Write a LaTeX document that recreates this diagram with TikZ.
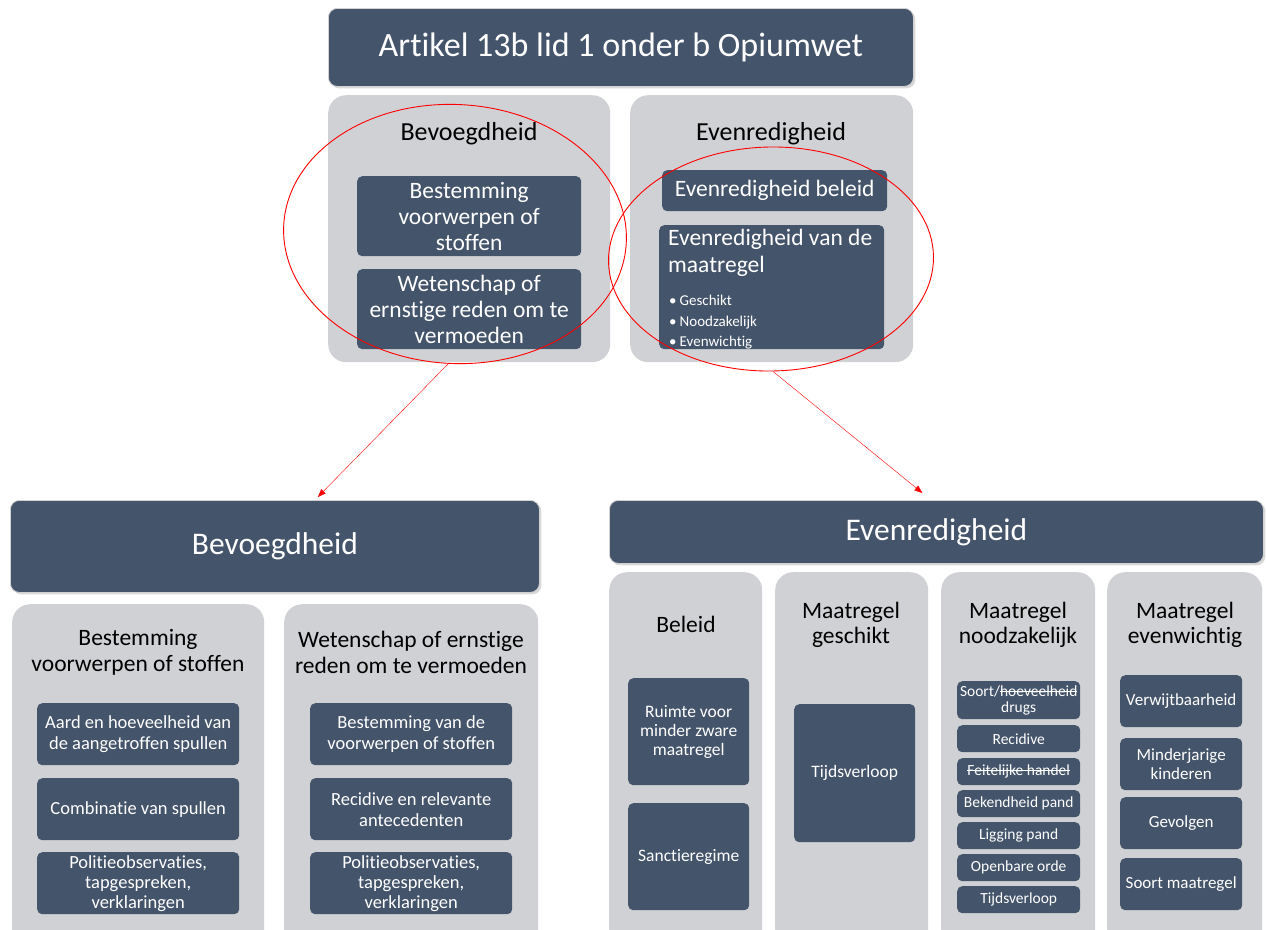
\documentclass[tikz,border=0pt]{standalone}
\usepackage{fontspec}
\setmainfont{Carlito}[Ligatures=NoCommon]
\usetikzlibrary{shapes.geometric,arrows.meta,shadows}
\definecolor{slate}{HTML}{44546A}
\definecolor{panelgray}{HTML}{D0D1D4}
\newcommand\setfs[2]{\fontsize{#1}{#2}\selectfont}
\newcommand\strikeout[1]{\leavevmode\setbox0\hbox{#1}\rlap{\rule[0.3em]{\wd0}{0.07em}}\box0}
\begin{document}
\begin{tikzpicture}[x=1pt, y=-1pt,
    darkbox/.style={fill=slate, text=white, rounded corners=5pt, inner sep=0pt, align=center, anchor=north west},
    bigbox/.style={darkbox, rounded corners=9pt, draw=gray!35, line width=0.8pt,
        drop shadow={opacity=0.3, shadow xshift=2pt, shadow yshift=-2pt}},
    panel/.style={fill=panelgray, rounded corners=18pt, inner sep=0pt, anchor=north west},
    paneltitle/.style={align=center, inner sep=0pt},
    redring/.style={ellipse, draw=red, line width=0.9pt, inner sep=0pt},
    link/.style={red, line width=0.4pt, -{Triangle[length=8pt,width=6pt]}}]
    \useasboundingbox (0,0) rectangle (1266,929);

    % top part
    \node[bigbox, minimum width=585, minimum height=78, font=\setfs{34}{40}] (artikel) at (328,8) {Artikel 13b lid 1 onder b Opiumwet};
    \node[panel, minimum width=282, minimum height=267] (panB) at (328,95) {};
    \node[panel, minimum width=283, minimum height=267] (panE) at (630,95) {};
    \node[paneltitle, font=\setfs{26}{30}] (titB) at (469,134) {Bevoegdheid};
    \node[paneltitle, font=\setfs{26}{30}] (titE) at (771,134) {Evenredigheid};
    \node[darkbox, minimum width=224, minimum height=80, font=\setfs{23.5}{26}] (bestemming) at (357,176) {Bestemming\\voorwerpen of\\stoffen};
    \node[darkbox, minimum width=224, minimum height=80, font=\setfs{23.5}{26}] (wetenschap) at (357,269) {Wetenschap of\\ernstige reden om te\\vermoeden};
    \node[darkbox, minimum width=225, minimum height=41, font=\setfs{23.5}{26}] (beleid) at (662,170) {Evenredigheid beleid};
    \node[darkbox, minimum width=225, minimum height=124] (maatregel) at (659,225) {};
    \node[text=white, align=left, anchor=north west, inner sep=0pt, font=\setfs{23.5}{27}] (maatTxt) at (668,229) {Evenredigheid van de\\maatregel};
    \node[text=white, align=left, anchor=north west, inner sep=0pt, font=\setfs{15}{20.5}] (maatList) at (669,295)
        {\textbullet\hspace{3pt}Geschikt\\\textbullet\hspace{3pt}Noodzakelijk\\\textbullet\hspace{3pt}Evenwichtig};

    % red rings and arrows
    \node[redring, minimum width=343, minimum height=259, rotate=-3] (ringB) at (455,234) {};
    \node[redring, minimum width=325, minimum height=224, rotate=1] (ringE) at (771,259) {};

    % bottom left
    \node[bigbox, minimum width=529, minimum height=92, font=\setfs{31.5}{36}] (bigB) at (10,500) {Bevoegdheid};
    \node[panel, minimum width=252, minimum height=345] (colBest) at (12,604) {};
    \node[panel, minimum width=254, minimum height=345] (colWet) at (284,604) {};
    \node[paneltitle, font=\setfs{23.5}{26}] (titBest) at (138,652) {Bestemming\\voorwerpen of stoffen};
    \node[paneltitle, font=\setfs{23.5}{26}] (titWet) at (411,652) {Wetenschap of ernstige\\reden om te vermoeden};
    \node[darkbox, minimum width=202, minimum height=62, font=\setfs{18.5}{21}] (aard) at (37,703) {Aard en hoeveelheid van\\de aangetroffen spullen};
    \node[darkbox, minimum width=202, minimum height=62, font=\setfs{18.5}{21}] (combi) at (37,778) {Combinatie van spullen};
    \node[darkbox, minimum width=202, minimum height=62, font=\setfs{18.5}{20}] (politieB) at (37,852) {Politieobservaties,\\tapgespreken,\\verklaringen};
    \node[darkbox, minimum width=202, minimum height=62, font=\setfs{18.5}{21}] (bestVoor) at (310,703) {Bestemming van de\\voorwerpen of stoffen};
    \node[darkbox, minimum width=202, minimum height=62, font=\setfs{18.5}{21}] (recidiveW) at (310,778) {Recidive en relevante\\antecedenten};
    \node[darkbox, minimum width=202, minimum height=62, font=\setfs{18.5}{20}] (politieW) at (310,852) {Politieobservaties,\\tapgespreken,\\verklaringen};

    % bottom right
    \node[bigbox, minimum width=654, minimum height=63, font=\setfs{31.5}{36}] (bigE) at (609,500) {Evenredigheid};
    \node[panel, minimum width=153, minimum height=375] (colBel) at (609,572) {};
    \node[panel, minimum width=153, minimum height=375] (colGes) at (775,572) {};
    \node[panel, minimum width=154, minimum height=375] (colNood) at (941,572) {};
    \node[panel, minimum width=155, minimum height=375] (colEven) at (1107,572) {};
    \node[paneltitle, font=\setfs{23.5}{25}] (titBel) at (686,624) {Beleid};
    \node[paneltitle, font=\setfs{23.5}{25}] (titGes) at (851,625) {Maatregel\\geschikt};
    \node[paneltitle, font=\setfs{23.5}{25}] (titNood) at (1018,625) {Maatregel\\noodzakelijk};
    \node[paneltitle, font=\setfs{23.5}{25}] (titEven) at (1185,625) {Maatregel\\evenwichtig};

    \node[darkbox, minimum width=121, minimum height=107, font=\setfs{17.5}{19}] (ruimte) at (628,678) {Ruimte voor\\minder zware\\maatregel};
    \node[darkbox, minimum width=121, minimum height=107, font=\setfs{17.5}{19}] (sanctie) at (628,803) {Sanctieregime};
    \node[darkbox, minimum width=121, minimum height=138, font=\setfs{17.5}{19}] (tijdGes) at (794,704) {Tijdsverloop};

    \node[darkbox, minimum width=123, minimum height=38, font=\setfs{15.5}{16}] (soort) at (957,681) {Soort/\strikeout{hoeveelheid}\\drugs};
    \node[darkbox, minimum width=123, minimum height=27, font=\setfs{15.5}{16}] (recidiveN) at (957,725) {Recidive};
    \node[darkbox, minimum width=123, minimum height=27, font=\setfs{15.5}{16}] (feitelijk) at (957,758) {\strikeout{Feitelijke handel}};
    \node[darkbox, minimum width=123, minimum height=27, font=\setfs{15.5}{16}] (bekend) at (957,790) {Bekendheid pand};
    \node[darkbox, minimum width=123, minimum height=27, font=\setfs{15.5}{16}] (ligging) at (957,822) {Ligging pand};
    \node[darkbox, minimum width=123, minimum height=27, font=\setfs{15.5}{16}] (orde) at (957,854) {Openbare orde};
    \node[darkbox, minimum width=123, minimum height=27, font=\setfs{15.5}{16}] (tijdNood) at (957,886) {Tijdsverloop};

    \node[darkbox, minimum width=122, minimum height=52, font=\setfs{17}{19}] (verwijt) at (1120,675) {Verwijtbaarheid};
    \node[darkbox, minimum width=122, minimum height=52, font=\setfs{17}{19}] (minder) at (1120,738) {Minderjarige\\kinderen};
    \node[darkbox, minimum width=122, minimum height=52, font=\setfs{17}{19}] (gevolgen) at (1120,797) {Gevolgen};
    \node[darkbox, minimum width=122, minimum height=52, font=\setfs{17}{19}] (soortM) at (1120,858) {Soort maatregel};

    \draw[link] (ringB.south) -- ([xshift=43pt, yshift=3pt]bigB.north);
    \draw[link] (ringE.south) -- ([xshift=-14pt, yshift=7pt]bigE.north);
\end{tikzpicture}
\end{document}
